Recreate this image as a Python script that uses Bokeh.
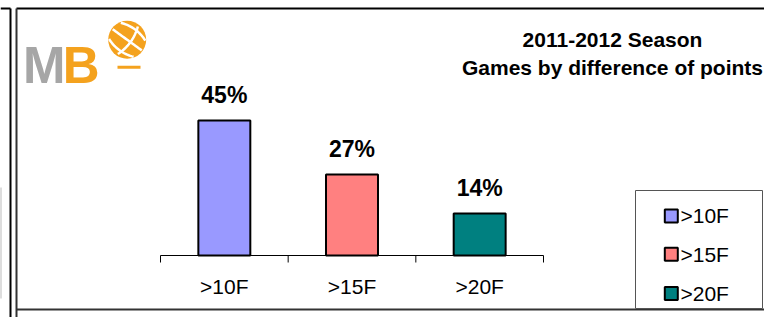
import numpy as np
from bokeh.plotting import figure
from bokeh.models import Range1d, ColumnDataSource
from bokeh.core.properties import value
from bokeh.embed import file_html
from bokeh.resources import INLINE

# ---- data ----
categories = [">10F", ">15F", ">20F"]
percents = [45, 27, 14]
bar_colors = ["#9999FF", "#FF8080", "#008080"]
title_lines = ["2011-2012 Season", "Games by difference of points"]

FONT = value("Liberation Sans")
ORANGE = "#F4A21E"
GRAY = "#A6A6A6"

W, H = 764, 317
PX_PER_CAT = 383 / 3.0      # pixel width of a category slot
AXIS_LEFT = 160             # px of the category axis start
PX_PER_PCT = 3.0
BASE_PX = 255               # px of the value 0 baseline


def dy(size):
    # correction for the renderer's baseline offset (in downward px)
    return -0.36 * size


x_start = -AXIS_LEFT / PX_PER_CAT
x_end = x_start + W / PX_PER_CAT
y_end = BASE_PX / PX_PER_PCT
y_start = y_end - H / PX_PER_PCT

p = figure(width=W, height=H,
           x_range=Range1d(x_start, x_end), y_range=Range1d(y_start, y_end),
           x_axis_type=None, y_axis_type=None,
           toolbar_location=None, output_backend="svg", min_border=0)
p.outline_line_color = None
p.background_fill_color = "white"
p.border_fill_color = "white"
p.extra_x_ranges = {"px": Range1d(0, W)}
p.extra_y_ranges = {"py": Range1d(H, 0)}

n = len(categories)
xs = [i + 0.5 for i in range(n)]
src = ColumnDataSource(dict(x=xs, top=percents, color=bar_colors, cat=categories,
                            lab=[f"{v}%" for v in percents],
                            laby=[v + (17 - dy(23)) / PX_PER_PCT for v in percents]))

# bars
p.vbar(x="x", top="top", bottom=0, width=0.407, fill_color="color",
       line_color="black", line_width=2, source=src)
# value labels
p.text(x="x", y="laby", text="lab", source=src, text_align="center",
       text_baseline="alphabetic", text_font=FONT, text_font_style="bold",
       text_font_size="23px", text_color="black")

# category axis
p.segment(x0=[0], x1=[n], y0=[0], y1=[0], line_color="black", line_width=1)
ticks = list(range(n + 1))
p.segment(x0=ticks, x1=ticks, y0=[BASE_PX] * len(ticks), y1=[BASE_PX + 7] * len(ticks),
          y_range_name="py", line_color="black", line_width=1)
p.text(x=xs, y=[293.5 + dy(21)] * n, text=categories, y_range_name="py",
       text_align="center", text_baseline="alphabetic", text_font=FONT,
       text_font_size="21px", text_color="black")

# title
p.text(x=[612, 612], y=[46.7 + dy(21), 74.3 + dy(21)], text=title_lines,
       x_range_name="px", y_range_name="py",
       text_align="center", text_baseline="alphabetic", text_font=FONT,
       text_font_style="bold", text_font_size="21px", text_color="black")

# frame lines
p.segment(x0=[0], x1=[0], y0=[187], y1=[298], x_range_name="px", y_range_name="py",
          line_color="#BBBBBB", line_width=2)
p.segment(x0=[10, 0, 16], x1=[10, 10, W], y0=[8, 8, 8], y1=[H, 8, 8],
          x_range_name="px", y_range_name="py", line_color="black", line_width=2)
p.segment(x0=[16, 16], x1=[16, W], y0=[8, 309], y1=[H, 309],
          x_range_name="px", y_range_name="py", line_color="#333333", line_width=2)

# legend
p.quad(left=[635], right=[762], top=[190], bottom=[308], x_range_name="px", y_range_name="py",
       fill_color="white", line_color="#555555", line_width=1)
leg_sq_y = [215.5, 253.8, 293.0]
leg_tx_y = [222.9 + dy(21), 261.2 + dy(21), 300.2 + dy(21)]
p.rect(x=[670.8] * n, y=leg_sq_y, width=13, height=13, x_range_name="px", y_range_name="py",
       fill_color=bar_colors, line_color="black", line_width=2)
p.text(x=[680] * n, y=leg_tx_y, text=categories, x_range_name="px", y_range_name="py",
       text_align="left", text_baseline="alphabetic", text_font=FONT,
       text_font_size="21px", text_color="black")

# logo
p.text(x=[22.4], y=[83.3 + dy(51)], text=["M"], x_range_name="px", y_range_name="py",
       text_align="left", text_baseline="alphabetic", text_font=FONT,
       text_font_style="bold", text_font_size="51px", text_color=GRAY)
p.text(x=[62.2], y=[83.3 + dy(51)], text=["B"], x_range_name="px", y_range_name="py",
       text_align="left", text_baseline="alphabetic", text_font=FONT,
       text_font_style="bold", text_font_size="51px", text_color=ORANGE)
bx, by, br = 126.7, 39.3, 19.0
p.scatter(x=[bx], y=[by], size=2 * br, x_range_name="px", y_range_name="py",
          fill_color=ORANGE, line_color=None)
seam_x, seam_y = [], []
a = np.array([np.cos(np.pi / 5), np.sin(np.pi / 5)])
nv = np.array([-a[1], a[0]])
for d in (-10.0, 0.0, 10.0):
    L = np.sqrt(br ** 2 - d ** 2) - 1.0
    t = np.linspace(-L, L, 20)
    bow = 3.0 * (1 - (t / L) ** 2) * (np.sign(d) if d else 0)
    pts = np.outer(t, a) + np.outer(d + bow, nv)
    seam_x.append(list(bx + pts[:, 0]))
    seam_y.append(list(by + pts[:, 1]))
t = np.linspace(-br + 2, br - 2, 20)
pts = np.outer(t, nv) + np.outer(4 * (1 - (t / br) ** 2), a)
seam_x.append(list(bx + pts[:, 0]))
seam_y.append(list(by + pts[:, 1]))
p.multi_line(xs=seam_x, ys=seam_y, x_range_name="px", y_range_name="py",
             line_color="white", line_width=2.5)
p.segment(x0=[117], x1=[140], y0=[66.7], y1=[66.7], x_range_name="px", y_range_name="py",
          line_color=ORANGE, line_width=3)

open("out.html", "w").write(file_html(p, INLINE))
